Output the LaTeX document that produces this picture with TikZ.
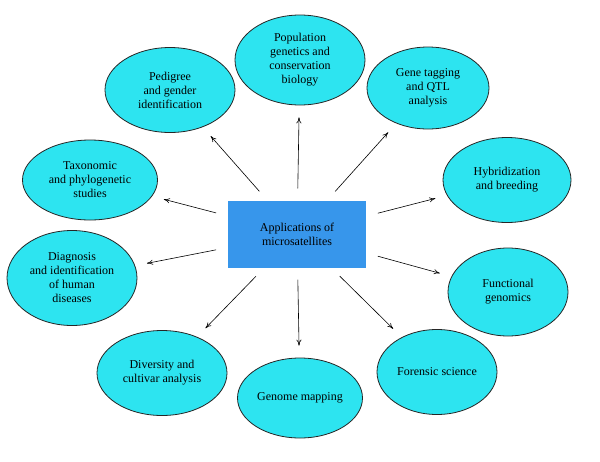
\documentclass[tikz,border=0pt]{standalone}
\usepackage{fontspec}
\setmainfont{Liberation Serif}
\usetikzlibrary{shapes.geometric,arrows.meta}
\definecolor{aqua}{RGB}{45,228,240}
\definecolor{boxblue}{RGB}{55,150,235}
\begin{document}
\begin{tikzpicture}[x=1pt,y=-1pt,
 el/.style={ellipse,draw=black!85,line width=0.8pt,fill=aqua,minimum width=#1,align=center,font=\fontsize{12}{14}\selectfont,inner sep=0pt},
 ar/.style={-{To[length=6pt,width=5pt]},line width=0.6pt,shorten <=12pt,shorten >=12pt}]
\useasboundingbox (0,0) rectangle (600,461);
\fill[white] (0,0) rectangle (600,461);
\node[fill=boxblue,minimum width=138pt,minimum height=67pt,align=center,font=\fontsize{12}{14}\selectfont] (c) at (297,234) {Applications of\\microsatellites};
\node[el=130pt,minimum height=90pt] (pop) at (300,60) {Population\\genetics and\\conservation\\biology};
\node[el=130pt,minimum height=85pt] (ped) at (170,90) {Pedigree\\and gender\\identification};
\node[el=122pt,minimum height=82pt] (gen) at (428,88) {Gene tagging\\and QTL\\analysis};
\node[el=135pt,minimum height=80pt] (tax) at (90,180) {Taxonomic\\and phylogenetic\\studies};
\node[el=128pt,minimum height=85pt] (hyb) at (507,180) {Hybridization\\and breeding};
\node[el=130pt,minimum height=95pt] (dia) at (72,278) {Diagnosis\\and identification\\of human\\diseases};
\node[el=120pt,minimum height=88pt] (fun) at (508,292) {Functional\\genomics};
\node[el=130pt,minimum height=85pt] (div) at (162,373) {Diversity and\\cultivar analysis};
\node[el=125pt,minimum height=80pt] (map) at (300,398) {Genome mapping};
\node[el=120pt,minimum height=85pt] (for) at (437,372) {Forensic science};
\foreach \t in {pop,ped,gen,tax,hyb,dia,fun,div,map,for}
  \draw[ar] (c) -- (\t);
\end{tikzpicture}
\end{document}
